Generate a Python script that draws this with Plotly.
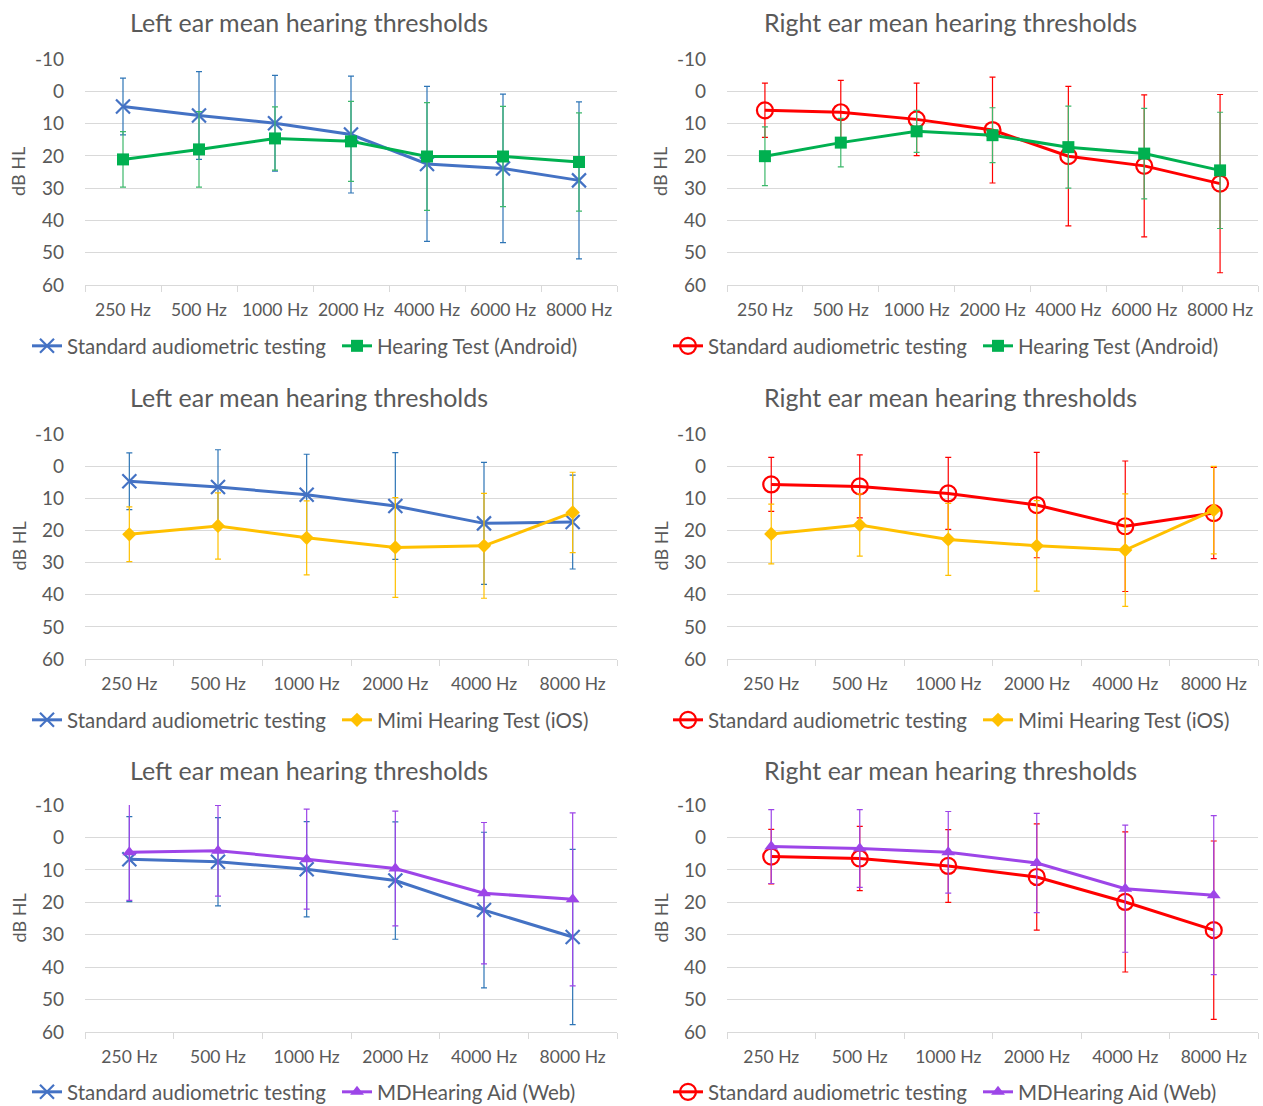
import plotly.graph_objects as go

# Frequency categories
freq_android = ["250 Hz", "500 Hz", "1000 Hz", "2000 Hz", "4000 Hz", "6000 Hz", "8000 Hz"]
freq_app = ["250 Hz", "500 Hz", "1000 Hz", "2000 Hz", "4000 Hz", "8000 Hz"]

# Threshold axis ticks (dB HL, drawn top-down)
db_ticks = [-10, 0, 10, 20, 30, 40, 50, 60]
db_labels = ["-10", "0", "10", "20", "30", "40", "50", "60"]

# Row 1: Hearing Test (Android) vs standard audiometry (mean, SD in dB HL)
left_std_android = [4.7, 7.5, 9.9, 13.4, 22.5, 23.9, 27.6]
left_std_android_sd = [8.8, 13.6, 14.8, 18.1, 24.0, 23.0, 24.3]
left_android = [21.1, 18.0, 14.6, 15.5, 20.2, 20.2, 21.9]
left_android_sd = [8.6, 11.7, 9.8, 12.4, 16.7, 15.5, 15.2]

right_std_android = [5.9, 6.5, 8.7, 12.0, 20.1, 23.1, 28.6]
right_std_android_sd = [8.4, 9.9, 11.2, 16.4, 21.6, 22.0, 27.6]
right_android = [20.1, 15.9, 12.4, 13.6, 17.3, 19.3, 24.5]
right_android_sd = [9.1, 7.5, 6.5, 8.5, 12.7, 14.0, 18.0]

# Row 2: Mimi Hearing Test (iOS)
left_std_mimi = [4.7, 6.5, 8.9, 12.4, 17.8, 17.4]
left_std_mimi_sd = [8.8, 11.6, 12.6, 16.6, 19.0, 14.6]
left_mimi = [21.2, 18.6, 22.3, 25.3, 24.8, 14.4]
left_mimi_sd = [8.5, 10.3, 11.5, 15.5, 16.3, 12.5]

right_std_mimi = [5.7, 6.3, 8.5, 12.1, 18.7, 14.6]
right_std_mimi_sd = [8.4, 9.8, 11.2, 16.4, 20.3, 14.2]
right_mimi = [21.1, 18.3, 22.8, 24.8, 26.1, 13.7]
right_mimi_sd = [9.3, 9.7, 11.2, 14.1, 17.5, 13.6]

# Row 3: MDHearing Aid (Web)
left_std_md = [6.7, 7.5, 9.8, 13.3, 22.4, 30.7]
left_std_md_sd = [13.1, 13.6, 14.7, 18.1, 24.0, 27.0]
left_md = [4.6, 4.1, 6.7, 9.6, 17.2, 19.1]
left_md_sd = [14.8, 14.0, 15.4, 17.7, 21.8, 26.7]

right_std_md = [5.9, 6.5, 8.8, 12.2, 19.9, 28.6]
right_std_md_sd = [8.4, 9.9, 11.2, 16.4, 21.6, 27.5]
right_md = [2.8, 3.4, 4.6, 7.9, 15.8, 17.8]
right_md_sd = [11.4, 12.0, 12.6, 15.3, 19.6, 24.5]

STD_LABEL = "Standard audiometric testing"
TITLE_LEFT = "Left ear mean hearing thresholds"
TITLE_RIGHT = "Right ear mean hearing thresholds"

FONT = "Lato"
TEXT = "#595959"
GRID = "#D9D9D9"
BLUE, BLUE_ERR = "#4472C4", "#2E75B6"
RED = "#FF0000"
GREEN, GREEN_ERR = "#00B050", "#3DB86B"
YELLOW = "#FFC000"
PURPLE = "#9D45E8"

W, H = 1263, 1106

# Panel boxes in pixels: (left, right) and (top, bottom)
cols = [(85, 617), (727, 1258)]
rows = [(59, 285), (434, 659), (805, 1032)]
title_y = [22, 397, 770]
title_cx = [309, 950]
legend_y = [346, 720, 1092]
legend_left = [27, 668]

STYLE_STD_LEFT = dict(color=BLUE, err=BLUE_ERR, symbol="x-thin-open", size=14, mline=2.2)
STYLE_STD_RIGHT = dict(color=RED, err=RED, symbol="circle-open", size=16, mline=2.2)
STYLE_ANDROID = dict(color=GREEN, err=GREEN_ERR, symbol="square", size=12, mline=0)
STYLE_MIMI = dict(color=YELLOW, err=YELLOW, symbol="diamond", size=11, mline=0)
STYLE_MD = dict(color=PURPLE, err=PURPLE, symbol="triangle-up", size=12, mline=0)

panels = [
    # (row, col, title, categories, [(name, mean, sd, style), ...])
    (0, 0, TITLE_LEFT, freq_android, [
        (STD_LABEL, left_std_android, left_std_android_sd, STYLE_STD_LEFT),
        ("Hearing Test (Android)", left_android, left_android_sd, STYLE_ANDROID)]),
    (0, 1, TITLE_RIGHT, freq_android, [
        (STD_LABEL, right_std_android, right_std_android_sd, STYLE_STD_RIGHT),
        ("Hearing Test (Android)", right_android, right_android_sd, STYLE_ANDROID)]),
    (1, 0, TITLE_LEFT, freq_app, [
        (STD_LABEL, left_std_mimi, left_std_mimi_sd, STYLE_STD_LEFT),
        ("Mimi Hearing Test (iOS)", left_mimi, left_mimi_sd, STYLE_MIMI)]),
    (1, 1, TITLE_RIGHT, freq_app, [
        (STD_LABEL, right_std_mimi, right_std_mimi_sd, STYLE_STD_RIGHT),
        ("Mimi Hearing Test (iOS)", right_mimi, right_mimi_sd, STYLE_MIMI)]),
    (2, 0, TITLE_LEFT, freq_app, [
        (STD_LABEL, left_std_md, left_std_md_sd, STYLE_STD_LEFT),
        ("MDHearing Aid (Web)", left_md, left_md_sd, STYLE_MD)]),
    (2, 1, TITLE_RIGHT, freq_app, [
        (STD_LABEL, right_std_md, right_std_md_sd, STYLE_STD_RIGHT),
        ("MDHearing Aid (Web)", right_md, right_md_sd, STYLE_MD)]),
]

fig = go.Figure()
layout = dict(
    width=W, height=H,
    margin=dict(l=0, r=0, t=0, b=0, autoexpand=False),
    paper_bgcolor="white", plot_bgcolor="white",
    font=dict(family=FONT, color=TEXT),
    showlegend=True,
    annotations=[],
)

for idx, (r, c, title, cats, series) in enumerate(panels):
    n = idx + 1
    suffix = "" if n == 1 else str(n)
    x0, x1 = cols[c]
    y0, y1 = rows[r]
    legend_name = "legend" + suffix

    for name, mean, sd, st in series:
        fig.add_trace(go.Scatter(
            x=cats, y=mean, name=name, mode="lines+markers",
            xaxis="x" + suffix, yaxis="y" + suffix, legend=legend_name,
            line=dict(color=st["color"], width=3),
            marker=dict(symbol=st["symbol"], size=st["size"], color=st["color"],
                        line=dict(color=st["color"], width=st["mline"])),
            error_y=dict(type="data", array=sd, visible=True,
                         color=st["err"], thickness=1.2, width=3),
        ))

    layout["xaxis" + suffix] = dict(
        domain=[x0 / W, x1 / W], anchor="y" + suffix, type="category",
        range=[-0.5, len(cats) - 0.5],
        showline=True, linecolor=GRID, linewidth=1,
        ticks="outside", tickson="boundaries", ticklen=6, tickcolor=GRID,
        ticklabelstandoff=9,
        showgrid=False, tickfont=dict(size=17.5, color=TEXT, family=FONT),
        fixedrange=True,
    )
    layout["yaxis" + suffix] = dict(
        domain=[1 - y1 / H, 1 - y0 / H], anchor="x" + suffix,
        range=[60, -10], tickvals=db_ticks, ticktext=db_labels,
        showgrid=True, gridcolor=GRID, gridwidth=1, zeroline=False,
        showline=False, ticks="", ticklabelstandoff=20,
        tickfont=dict(size=19, color=TEXT, family=FONT),
        fixedrange=True,
    )
    layout[legend_name] = dict(
        orientation="h", x=legend_left[c] / W, xanchor="left",
        y=1 - legend_y[r] / H, yanchor="middle",
        font=dict(size=20.5, color=TEXT, family=FONT),
        bgcolor="rgba(0,0,0,0)", itemwidth=30, tracegroupgap=0,
        entrywidth=265, entrywidthmode="pixels",
    )
    layout["annotations"].append(dict(
        text=title, x=title_cx[c] / W, y=1 - title_y[r] / H,
        xref="paper", yref="paper", xanchor="center", yanchor="middle",
        showarrow=False, font=dict(size=25, color=TEXT, family=FONT),
    ))
    layout["annotations"].append(dict(
        text="dB HL", x=(x0 - 67) / W, y=1 - ((y0 + y1) / 2) / H,
        xref="paper", yref="paper", xanchor="center", yanchor="middle",
        textangle=-90, showarrow=False, font=dict(size=18, color=TEXT, family=FONT),
    ))

fig.update_layout(**layout)
fig.write_html("out.html")
